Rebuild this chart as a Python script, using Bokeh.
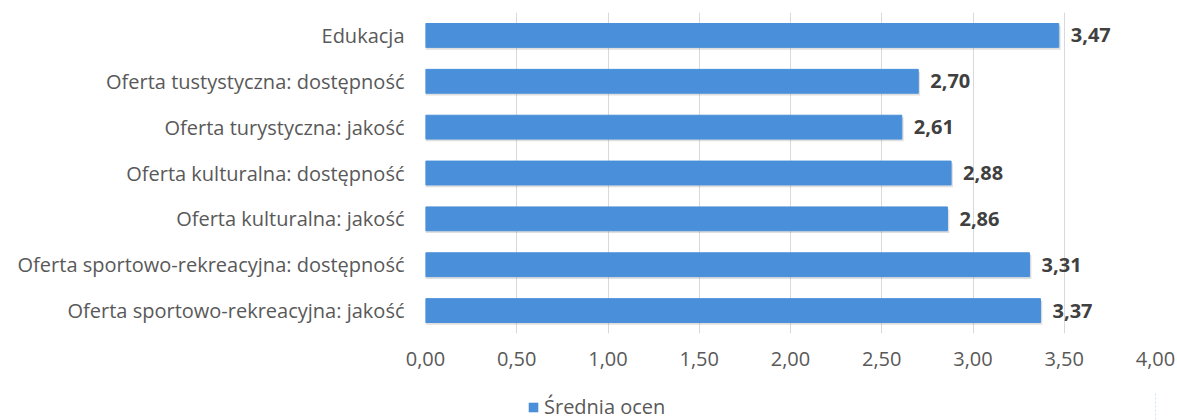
from bokeh.plotting import figure
from bokeh.layouts import column
from bokeh.models import ColumnDataSource, FactorRange, Range1d, CustomJSTickFormatter, FixedTicker, Legend, LegendItem
from bokeh.transform import dodge
from bokeh.core.properties import value
from bokeh.embed import file_html
from bokeh.resources import INLINE

categories = [
    "Edukacja",
    "Oferta tustystyczna: dostępność",
    "Oferta turystyczna: jakość",
    "Oferta kulturalna: dostępność",
    "Oferta kulturalna: jakość",
    "Oferta sportowo-rekreacyjna: dostępność",
    "Oferta sportowo-rekreacyjna: jakość",
]
values = [3.47, 2.70, 2.61, 2.88, 2.86, 3.31, 3.37]
x_ticks = [0, 0.5, 1, 1.5, 2, 2.5, 3, 3.5, 4]
series_name = "Średnia ocen"

labels = [f"{v:.2f}".replace(".", ",") for v in values]
source = ColumnDataSource(dict(cat=categories, val=values, lab=labels))

FONT = "Open Sans"
FS = "20px"
BAR = "#4A8FD9"
W = 1177

p = figure(
    width=W, height=392,
    y_range=FactorRange(*reversed(categories), range_padding=0),
    x_range=Range1d(0, 4),
    output_backend="svg", toolbar_location=None,
    min_border_left=425, min_border_right=22, min_border_top=12, min_border_bottom=59,
)
p.outline_line_color = None
p.background_fill_color = "white"
p.border_fill_color = "white"

p.xgrid.grid_line_color = "#d9d9d9"
p.xgrid.ticker = FixedTicker(ticks=x_ticks)
p.ygrid.grid_line_color = None

# soft shadow under the bars
p.hbar(y=dodge("cat", -0.05, range=p.y_range), left=0, right=dodge("val", 0.01), height=0.52,
       source=source, fill_color="#808080", fill_alpha=0.25, line_color=None)
bars = p.hbar(y="cat", left=0, right="val", height=0.52, source=source,
              fill_color=BAR, line_color=BAR, line_width=1)

p.text(x="val", y="cat", text="lab", source=source, x_offset=12,
       text_baseline="middle", text_align="left",
       text_font=value(FONT), text_font_size=FS, text_font_style="bold",
       text_color="#404040")

p.xaxis.ticker = FixedTicker(ticks=x_ticks)
p.xaxis.formatter = CustomJSTickFormatter(code="return tick.toFixed(2).replace('.', ',');")
p.xaxis.axis_line_color = None
p.xaxis.major_tick_line_color = None
p.xaxis.minor_tick_line_color = None
p.xaxis.major_label_standoff = 12
p.xaxis.major_label_text_font = FONT
p.xaxis.major_label_text_font_size = FS
p.xaxis.major_label_text_color = "#595959"

p.yaxis.axis_line_color = None
p.yaxis.major_tick_line_color = None
p.yaxis.minor_tick_line_color = None
p.yaxis.major_label_standoff = 15
p.yaxis.major_label_text_font = FONT
p.yaxis.major_label_text_font_size = FS
p.yaxis.major_label_text_color = "#595959"

# legend strip below the chart
lg = figure(
    width=W, height=28,
    y_range=FactorRange(*reversed(categories)),
    x_range=Range1d(-11, -10),
    output_backend="svg", toolbar_location=None,
    min_border_left=425, min_border_right=22, min_border_top=0, min_border_bottom=0,
)
lg.axis.visible = False
lg.grid.visible = False
lg.outline_line_color = None
lg_bars = lg.hbar(y="cat", left=0, right="val", height=0.52, source=source,
                  fill_color=BAR, line_color=None)
legend = Legend(items=[LegendItem(label=series_name, renderers=[lg_bars])],
                location=(102, 0), orientation="horizontal",
                padding=0, margin=0, spacing=0,
                glyph_width=12, glyph_height=12, label_height=20,
                label_text_font=FONT, label_text_font_size=FS,
                label_text_color="#595959", border_line_color=None,
                background_fill_alpha=0)
lg.add_layout(legend, "center")

layout = column(p, lg, spacing=0)
open("out.html", "w").write(file_html(layout, INLINE))
